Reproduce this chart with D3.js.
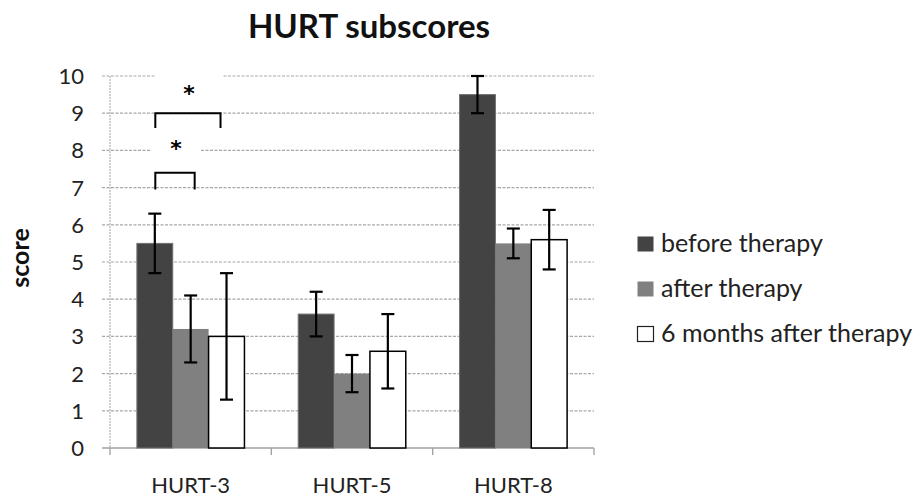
<!DOCTYPE html>
<html>
<head>
<meta charset="utf-8">
<script src="https://cdn.jsdelivr.net/npm/d3@7"></script>
<style>
  body { margin: 0; background: #fff; }
  text { font-family: Lato, "Open Sans", sans-serif; fill: #222; }
</style>
</head>
<body>
<div id="chart"></div>
<script>
'use strict'

// Data.
const categories = ['HURT-3', 'HURT-5', 'HURT-8'];
const series = ['before therapy', 'after therapy', '6 months after therapy'];
const means = [
    [5.5, 3.2, 3.0],
    [3.6, 2.0, 2.6],
    [9.5, 5.5, 5.6]
];
const errLow = [
    [4.7, 2.3, 1.3],
    [3.0, 1.5, 1.6],
    [9.0, 5.1, 4.8]
];
const errHigh = [
    [6.3, 4.1, 4.7],
    [4.2, 2.5, 3.6],
    [10.0, 5.9, 6.4]
];
const yTicks = [0, 1, 2, 3, 4, 5, 6, 7, 8, 9, 10];

// Significance brackets (HURT-3): compared series, bracket top, leg end, star level.
const brackets = [
    {from: 0, to: 1, top: 7.4, leg: 6.95, star: 8.15},
    {from: 0, to: 2, top: 9.0, leg: 8.6, star: 9.62}
];

// Dimensions and Constants
const width = 914, height = 497;
const plot = {left: 110, right: 594, top: 76, bottom: 448};
const colors = ['#434343', '#808080', '#ffffff'];

const svg = d3.select('#chart')
    .append('svg')
        .attr('width', width)
        .attr('height', height);

// Build scales.
let x = d3.scaleBand()
    .domain(categories)
    .range([plot.left, plot.right]);

let xSub = d3.scaleBand()
    .domain(d3.range(series.length))
    .range([0, x.bandwidth()])
    .paddingInner(0)
    .paddingOuter(0.75);

let y = d3.scaleLinear()
    .domain([0, 10])
    .range([plot.bottom, plot.top]);

// Gridlines and y ticks.
svg.append('g')
    .selectAll('line')
    .data(yTicks.filter(d => d > 0))
    .join('line')
        .attr('x1', plot.left - 8)
        .attr('x2', plot.right)
        .attr('y1', d => y(d))
        .attr('y2', d => y(d))
        .attr('stroke', '#a8a8a8')
        .attr('stroke-width', 1.2)
        .attr('stroke-dasharray', '3,1.5');

// Y axis line.
svg.append('line')
    .attr('x1', plot.left).attr('x2', plot.left)
    .attr('y1', y(10)).attr('y2', y(0))
    .attr('stroke', '#b4b4b4')
    .attr('stroke-width', 1.2)
    .attr('stroke-dasharray', '2,1');

svg.append('g')
    .selectAll('text')
    .data(yTicks)
    .join('text')
        .attr('x', 84)
        .attr('y', d => y(d))
        .attr('dy', '0.36em')
        .attr('text-anchor', 'end')
        .attr('font-size', 22)
        .text(d => d);

// X axis.
let xAxis = svg.append('g');
xAxis.append('line')
    .attr('x1', plot.left - 8).attr('x2', plot.right)
    .attr('y1', y(0)).attr('y2', y(0))
    .attr('stroke', '#a0a0a0')
    .attr('stroke-width', 1.3);

xAxis.selectAll('line.tick')
    .data(categories.map(c => x(c)).concat([plot.right]))
    .join('line')
        .attr('class', 'tick')
        .attr('x1', d => d).attr('x2', d => d)
        .attr('y1', y(0)).attr('y2', y(0) + 7)
        .attr('stroke', '#a0a0a0')
        .attr('stroke-width', 1.3);

xAxis.selectAll('text')
    .data(categories)
    .join('text')
        .attr('x', d => x(d) + x.bandwidth() / 2)
        .attr('y', 493)
        .attr('text-anchor', 'middle')
        .attr('font-size', 22)
        .text(d => d);

// Flatten for bars.
let barData = [];
categories.forEach((c, i) => {
    series.forEach((s, j) => {
        barData.push({cat: c, s: j, value: means[i][j], lo: errLow[i][j], hi: errHigh[i][j]});
    });
});

let cx = d => x(d.cat) + xSub(d.s) + xSub.bandwidth() / 2;

svg.append('g')
    .selectAll('rect')
    .data(barData)
    .join('rect')
        .attr('x', d => x(d.cat) + xSub(d.s))
        .attr('y', d => y(d.value))
        .attr('width', xSub.bandwidth())
        .attr('height', d => y(0) - y(d.value))
        .attr('fill', d => colors[d.s])
        .attr('stroke', d => d.s === 2 ? '#000' : (d.s === 0 ? '#707070' : 'none'))
        .attr('stroke-width', d => d.s === 2 ? 1.5 : 1);

// Error bars.
let err = svg.append('g')
    .attr('stroke', '#000')
    .attr('stroke-width', 2.2);

err.selectAll('line.whisker')
    .data(barData)
    .join('line')
        .attr('class', 'whisker')
        .attr('x1', cx).attr('x2', cx)
        .attr('y1', d => y(d.lo)).attr('y2', d => y(d.hi));

err.selectAll('line.capHi')
    .data(barData)
    .join('line')
        .attr('class', 'capHi')
        .attr('x1', d => cx(d) - 6.5).attr('x2', d => cx(d) + 6.5)
        .attr('y1', d => y(d.hi)).attr('y2', d => y(d.hi));

err.selectAll('line.capLo')
    .data(barData)
    .join('line')
        .attr('class', 'capLo')
        .attr('x1', d => cx(d) - 6.5).attr('x2', d => cx(d) + 6.5)
        .attr('y1', d => y(d.lo)).attr('y2', d => y(d.lo));

// Significance brackets.
const bracketNudge = [{l: 0.5, r: 4, boxW: 49}, {l: 0.5, r: -6, boxW: 68}];
let sig = svg.append('g');
brackets.forEach((b, i) => {
    let x0 = x(categories[0]) + xSub(b.from) + xSub.bandwidth() / 2 + bracketNudge[i].l;
    let x1 = x(categories[0]) + xSub(b.to) + xSub.bandwidth() / 2 + bracketNudge[i].r;
    let sx = (x0 + x1) / 2 + 1;
    // white text box behind the star hides the gridline
    sig.append('rect')
        .attr('x', sx - bracketNudge[i].boxW / 2)
        .attr('y', y(b.star) - 16)
        .attr('width', bracketNudge[i].boxW)
        .attr('height', 30)
        .attr('fill', '#fff');
    sig.append('path')
        .attr('d', `M${x0},${y(b.leg)}V${y(b.top)}H${x1}V${y(b.leg)}`)
        .attr('fill', 'none')
        .attr('stroke', '#000')
        .attr('stroke-width', 2);
    sig.append('text')
        .attr('x', sx)
        .attr('y', y(b.star) + 11)
        .attr('text-anchor', 'middle')
        .style('font-family', '"DejaVu Sans", sans-serif')
        .style('font-weight', 'bold')
        .style('font-size', '22px')
        .style('fill', '#000')
        .text('*');
});

// Title and axis label.
svg.append('text')
    .attr('x', 369)
    .attr('y', 38)
    .attr('text-anchor', 'middle')
    .attr('font-size', 33)
    .attr('font-weight', 'bold')
    .style('fill', '#111')
    .text('HURT subscores');

svg.append('text')
    .attr('transform', 'translate(29,258) rotate(-90)')
    .attr('text-anchor', 'middle')
    .attr('font-size', 25)
    .attr('font-weight', 'bold')
    .style('fill', '#111')
    .text('score');

// Legend.
let legend = svg.append('g')
    .selectAll('g')
    .data(series)
    .join('g')
        .attr('transform', (d, i) => `translate(637,${252 + i * 45})`);

legend.append('rect')
    .attr('x', 0.5)
    .attr('y', -15.5)
    .attr('width', 16)
    .attr('height', 15)
    .attr('fill', (d, i) => colors[i])
    .attr('stroke', (d, i) => i === 2 ? '#222' : 'none')
    .attr('stroke-width', 1.2);

legend.append('text')
    .attr('x', 24)
    .attr('y', 0)
    .attr('font-size', 25)
    .text(d => d);
</script>
</body>
</html>
